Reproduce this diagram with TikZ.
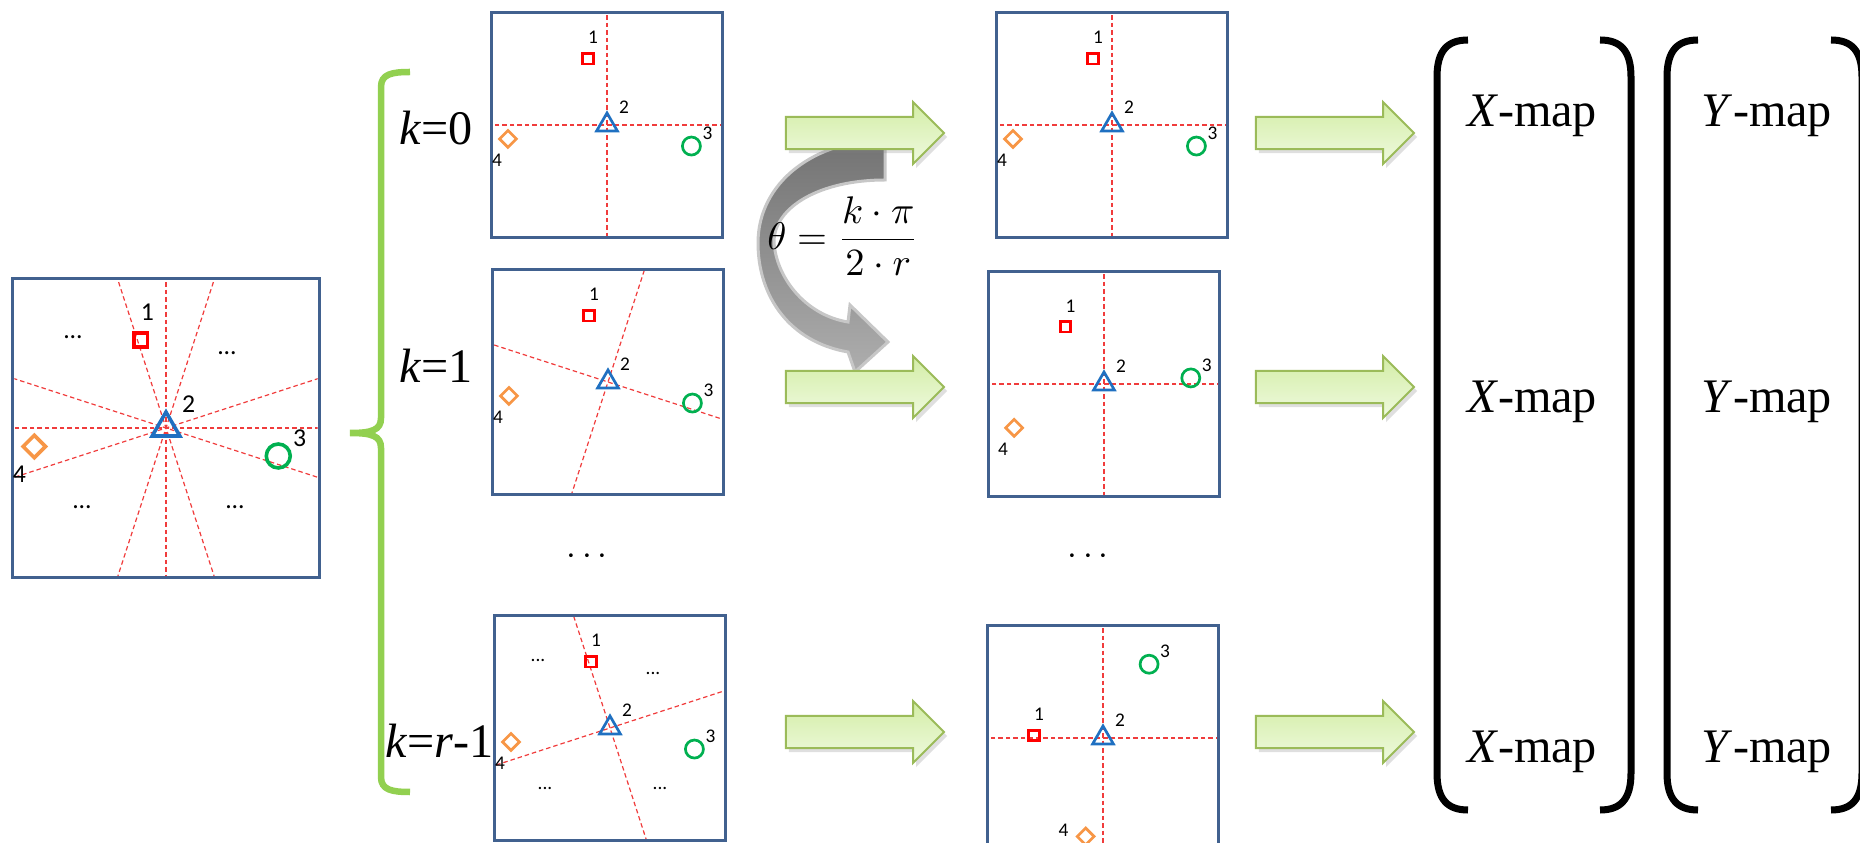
\documentclass[tikz,border=0pt]{standalone}
\usepackage{amsmath}
\usepackage{fontspec}
\setmainfont{Liberation Serif}
\newfontfamily\calib{Carlito}
\usetikzlibrary{calc,shapes.geometric,shapes.arrows,shadows}

\definecolor{snapc}{HTML}{41618F}
\definecolor{cutc}{HTML}{F03C3C}
\definecolor{ptsq}{HTML}{FF0000}
\definecolor{pttri}{HTML}{1F70C1}
\definecolor{ptcir}{HTML}{00B050}
\definecolor{ptdia}{HTML}{F79646}
\definecolor{bracec}{HTML}{92D050}
\definecolor{garrc}{HTML}{9BBB59}
\definecolor{garrtop}{HTML}{D3EDA6}
\definecolor{garrbot}{HTML}{EFFADF}

% one snapshot: [offset of label 4], name, centre, cut angles, turn of the points, size
\newcommand{\snap}[6][-11,-21]{%
  \pgfmathsetmacro{\snapfs}{5.5*#6}%
  \coordinate (#2-c) at (#3);
  \begin{scope}
    \clip ($(#2-c)+(-114*#6,-111*#6)$) rectangle ($(#2-c)+(114*#6,111*#6)$);
    \foreach \a in {#4}
      \draw[cutline] ($(#2-c)+(\a:200*#6)$) -- ($(#2-c)+(\a+180:200*#6)$);
  \end{scope}
  \node[snapbox, minimum width={23mm*#6}, minimum height={22.4mm*#6}] (#2) at (#2-c) {};
  \node[sqm=#6]  (#2-1) at ($(#2-c)+(106+#5:69*#6)$) {};
  \node[trim=#6] (#2-2) at (#2-c) {};
  \node[cirm=#6] (#2-3) at ($(#2-c)+(-14+#5:87*#6)$) {};
  \node[diam=#6] (#2-4) at ($(#2-c)+(188+#5:100*#6)$) {};
  \node[numl] (#2-n1) at ($(#2-1)+(5*#6,21*#6)$) {1};
  \node[numl] (#2-n2) at ($(#2-2)+(17*#6,18*#6)$) {2};
  \node[numl] (#2-n3) at ($(#2-3)+(16*#6,13*#6)$) {3};
  \node[numl] (#2-n4) at ($(#2-4)+(#1)$) {4};
}

\begin{document}
\begin{tikzpicture}[x=0.01cm, y=0.01cm,
  snapbox/.style={draw=snapc, line width=0.3mm, inner sep=0pt},
  cutline/.style={draw=cutc, line width=0.12mm, dash pattern=on 0.45mm off 0.3mm},
  mkbase/.style={draw, inner sep=0pt, line width={0.27mm*#1}},
  sqm/.style={mkbase=#1, draw=ptsq, rectangle, minimum size={1.05mm*#1}},
  trim/.style={mkbase=#1, draw=pttri, regular polygon, regular polygon sides=3, minimum size={2.4mm*#1}},
  cirm/.style={mkbase=#1, draw=ptcir, circle, minimum size={1.8mm*#1}},
  diam/.style={mkbase=#1, draw=ptdia, diamond, minimum size={1.8mm*#1}},
  numl/.style={font=\calib\fontsize{\snapfs}{\snapfs}\selectfont, inner sep=0pt},
  biglab/.style={font=\fontsize{13.7}{16}\selectfont, inner sep=0pt},
  garr/.style={single arrow, draw=garrc, line width=0.2mm, top color=garrtop, bottom color=garrbot,
    minimum height=15.8mm, inner xsep=0pt, inner ysep=1.5mm, single arrow head extend=1.5mm,
    drop shadow={shadow xshift=0.3mm, shadow yshift=-0.4mm, opacity=0.25}},
  spinarrow/.style={top color=black!55, bottom color=black!32, draw=black!22, line width=0.3mm},
  bracel/.style={draw=bracec, line width=0.65mm},
  parenl/.style={draw=black, line width=0.7mm}]
\useasboundingbox (0,0) rectangle (1860,842);
\clip (0,0) rectangle (1860,842);
% input map
\snap[-15,-28]{big}{166,414}{0,18,72,90,108,162}{0}{1.33}
\foreach \dx/\dy [count=\i] in {-93/91,61/75,-84/-79,69/-79}
  \node[numl] (big-d\i) at ($(big-c)+(\dx,\dy)$) {...};
% brace
\draw[bracel] (410,770) .. controls (392,770) and (381,768) .. (381,755) -- (381,424)
  .. controls (381,412) and (372,409) .. (350,409) .. controls (372,409) and (381,406) .. (381,394)
  -- (381,65) .. controls (381,52) and (392,50) .. (410,50);
% cut lines turned by k
\snap{a0}{607,717}{0,90}{0}{1}
\snap{a1}{608,460}{-18,72}{0}{1}
\snap{a2}{610,114}{18,108}{0}{1}
\foreach \dx/\dy [count=\i] in {-72/68,43/55,-65/-60,50/-60}
  \node[numl] (a2-d\i) at ($(a2-c)+(\dx,\dy)$) {...};
\node[biglab, anchor=base west] (k0) at (399,697) {\textit{k}=0};
\node[biglab, anchor=base west] (k1) at (399,459) {\textit{k}=1};
\node[biglab, anchor=base west] (kr) at (385,85) {\textit{k}=\textit{r}-1};
\node[inner sep=0pt, font=\fontsize{10}{11}\selectfont] (adots) at (590,285) {$\cdots$};
% rotation
\draw[spinarrow] (885,702) .. controls (815,702) and (758,660) .. (758,599)
  .. controls (758,545) and (790,500) .. (848,490) -- (855,470) -- (888,500) -- (850,537) -- (848,520)
  .. controls (805,527) and (776,565) .. (774,600) .. controls (774,635) and (820,662) .. (885,662) -- cycle;
\node[inner sep=0pt, font=\fontsize{10.5}{12}\selectfont] (theta) at (843,606) {$\theta=\dfrac{k\cdot\pi}{2\cdot r}$};
% rotated maps
\snap{b0}{1112,717}{0,90}{0}{1}
\snap{b1}{1104,458}{0,90}{18}{1}
\snap[-22,6]{b2}{1103,104}{0,90}{72}{1}
\node[inner sep=0pt, font=\fontsize{10}{11}\selectfont] (bdots) at (1091,285) {$\cdots$};
% block arrows
\node[garr] (ga0) at (857,709) {};
\node[garr] (ga1) at (857,455) {};
\node[garr] (ga2) at (857,110) {};
\node[garr] (gb0) at (1327,709) {};
\node[garr] (gb1) at (1327,455) {};
\node[garr] (gb2) at (1327,110) {};
% output maps
\foreach \x/\s in {1437/1,1631/-1,1667/1,1862/-1}
  \draw[parenl] (\x+31*\s,802) .. controls (\x+11*\s,802) and (\x,792) .. (\x,765) -- (\x,69)
    .. controls (\x,42) and (\x+11*\s,32) .. (\x+31*\s,32);
\foreach \y [count=\i] in {715,429,80} {
  \node[biglab, anchor=base] (xm\i) at (1532,\y) {\textit{X}-map};
  \node[biglab, anchor=base] (ym\i) at (1767,\y) {\textit{Y}-map};
}
\end{tikzpicture}
\end{document}
